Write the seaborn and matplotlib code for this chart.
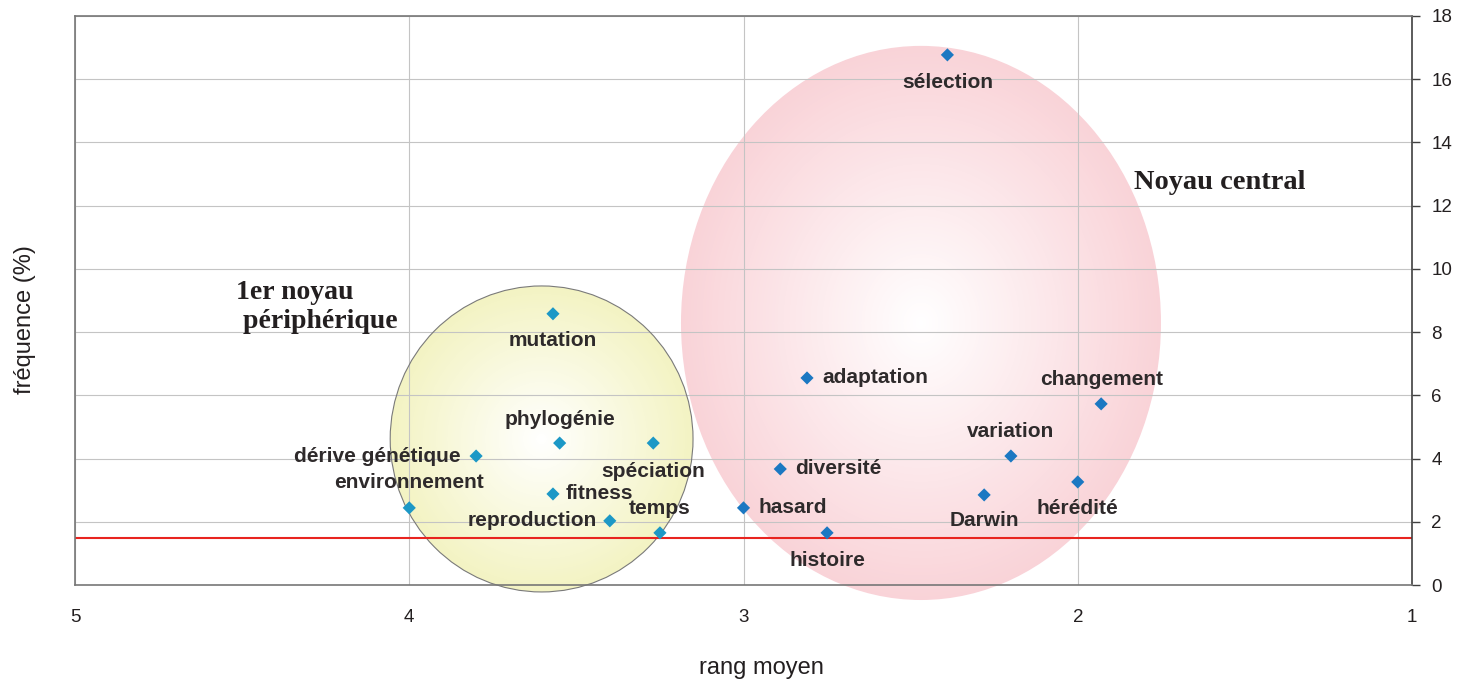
import numpy as np
import pandas as pd
import seaborn as sns
import matplotlib.pyplot as plt
from matplotlib.patches import Ellipse
from matplotlib.colors import to_rgb

# ---- data ----
mots = ["sélection", "mutation", "phylogénie", "spéciation", "dérive génétique",
        "environnement", "fitness", "reproduction", "temps", "adaptation",
        "changement", "variation", "diversité", "hérédité", "Darwin", "hasard",
        "histoire"]
rang_moyen = [2.39, 3.57, 3.55, 3.27, 3.80, 4.00, 3.57, 3.40, 3.25, 2.81,
              1.93, 2.20, 2.89, 2.00, 2.28, 3.00, 2.75]
frequence = [16.77, 8.58, 4.49, 4.49, 4.08, 2.44, 2.88, 2.03, 1.65, 6.55,
             5.73, 4.08, 3.67, 3.26, 2.85, 2.44, 1.65]
groupe = ["central", "periph", "periph", "periph", "periph", "periph", "periph",
          "periph", "periph", "central", "central", "central", "central",
          "central", "central", "central", "central"]
seuil = 1.5
x_ticks = [5, 4, 3, 2, 1]
y_ticks = list(range(0, 19, 2))

df = pd.DataFrame({"mot": mots, "rang": rang_moyen, "freq": frequence, "groupe": groupe})

# label placement (pixel offsets, alignment)
placement = {
    "sélection": (0, -28, "center"), "mutation": (0, -27, "center"),
    "phylogénie": (0, 24, "center"), "spéciation": (0, -28, "center"),
    "dérive génétique": (-15, 0, "right"), "environnement": (0, 25, "center"),
    "fitness": (13, 0, "left"), "reproduction": (-13, 0, "right"),
    "temps": (0, 24, "center"), "adaptation": (15, 0, "left"),
    "changement": (0, 24, "center"), "variation": (0, 25, "center"),
    "diversité": (15, 0, "left"), "hérédité": (0, -27, "center"),
    "Darwin": (0, -26, "center"), "hasard": (15, 0, "left"),
    "histoire": (0, -28, "center"),
}

sns.set_style("white")
plt.rcParams["font.family"] = ["Liberation Sans", "DejaVu Sans"]

fig = plt.figure(figsize=(14.74, 6.85), dpi=100)
ax = fig.add_axes([75 / 1474, 1 - 585 / 685, (1412 - 75) / 1474, (585 - 16) / 685])

ax.set_xlim(5, 1)
ax.set_ylim(0, 18)


def gradient_ellipse(cx, cy, w, h, edge_rgb, n=80, outline=None):
    edge = np.array(to_rgb(edge_rgb))
    white = np.ones(3)
    for i in range(n):
        f = 1 - i / n
        col = white + (edge - white) * f
        e = Ellipse((cx, cy), w * f, h * f, facecolor=col, edgecolor="none",
                    zorder=0.5, clip_on=False)
        ax.add_patch(e)
    if outline:
        ax.add_patch(Ellipse((cx, cy), w, h, facecolor="none", edgecolor=outline,
                             lw=0.8, zorder=0.6, clip_on=False))


gradient_ellipse(2.469, 8.29, 1.436, 17.53, "#f9d3d8")
gradient_ellipse(3.604, 4.62, 0.906, 9.68, "#f3f3c3", outline="#7a7a7a")

ax.axhline(seuil, color="#e8241f", lw=1.5, zorder=1)

sns.scatterplot(data=df, x="rang", y="freq", hue="groupe",
                palette={"central": "#1b78c2", "periph": "#1c98c6"},
                marker="D", s=45, edgecolor="none", legend=False, ax=ax, zorder=3)

for m, x, y in zip(mots, rang_moyen, frequence):
    dx, dy, ha = placement[m]
    ax.annotate(m, (x, y), xytext=(dx, dy), textcoords="offset pixels",
                ha=ha, va="center", fontsize=15, fontweight="bold",
                color="#2e2a2b", zorder=4)

ax.text(4.518, 8.8, "1er noyau\n périphérique", ha="left", va="center",
        fontsize=20, fontweight="bold", family=["Liberation Serif"],
        color="#231f20", linespacing=1.2)
ax.text(1.574, 12.72, "Noyau central", ha="center", va="center",
        fontsize=20.5, fontweight="bold", family=["Liberation Serif"],
        color="#231f20")

ax.set_xticks(x_ticks)
ax.set_yticks(y_ticks)
ax.set_xticklabels([str(t) for t in x_ticks])
ax.set_yticklabels([str(t) for t in y_ticks])
ax.yaxis.tick_right()
ax.yaxis.set_label_position("left")
ax.tick_params(axis="x", direction="out", length=7, width=1, color="#404040",
               pad=10, labelsize=13.5, labelcolor="#231f20")
ax.tick_params(axis="y", direction="out", length=6, width=1, color="#404040",
               pad=8, labelsize=13.5, labelcolor="#231f20", right=True, left=False)

ax.grid(True, color="#c4c4c4", lw=0.8, zorder=0)
ax.set_axisbelow(True)
for s in ["left", "top", "bottom"]:
    ax.spines[s].set_color("#777777")
    ax.spines[s].set_linewidth(1.2)
ax.spines["right"].set_color("#404040")
ax.spines["right"].set_linewidth(1.2)

ax.set_xlabel("rang moyen", fontsize=17, color="#231f20")
ax.set_ylabel("fréquence (%)", fontsize=17, color="#231f20")
ax.xaxis.set_label_coords((761 - 75) / 1337, (585 - 657) / 569)
ax.yaxis.set_label_coords((36 - 75) / 1337, (585 - 320) / 569)

fig.savefig("out.png", dpi=100)
